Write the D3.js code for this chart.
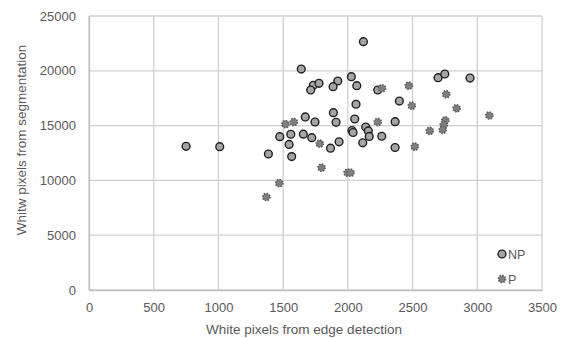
<!DOCTYPE html>
<html>
<head>
<meta charset="utf-8">
<script src="https://cdn.jsdelivr.net/npm/d3@7"></script>
<style>
  body { margin: 0; background: #fff; }
  svg text { font-family: "Liberation Sans", Arial, sans-serif; fill: #595959; }
</style>
</head>
<body>
<script>
// NP series (white pixels from edge detection, white pixels from segmentation)
const npX = [1640, 1733, 1777, 1713, 1671, 1746, 1474, 1559, 1656, 1721, 750, 1010, 1546, 1386, 1566, 1866,
             1922, 1886, 2027, 2069, 2063, 1888, 2120, 2231, 2697, 2749, 2398, 2944, 1909, 2053, 2032, 2040,
             1932, 2138, 2158, 2165, 2115, 2262, 2365, 2365];
const npY = [20160, 18680, 18860, 18250, 15790, 15330, 13990, 14210, 14220, 13900, 13110, 13080, 13280, 12410, 12170, 12940,
             19070, 18550, 19460, 18640, 16950, 16180, 22660, 18250, 19370, 19710, 17240, 19340, 15300, 15600, 14550, 14370,
             13520, 14870, 14510, 14010, 13430, 14030, 15360, 13000];
// P series
const pX = [1518, 1582, 1783, 1797, 1470, 1370, 1998, 2021, 2264, 2471, 2760, 2494, 2840, 3093, 2231, 2517, 2633, 2753, 2741, 2733];
const pY = [15130, 15330, 13350, 11160, 9745, 8485, 10700, 10700, 18400, 18640, 17860, 16810, 16580, 15920, 15330, 13080, 14510, 15470, 15060, 14620];

const xTicks = [0, 500, 1000, 1500, 2000, 2500, 3000, 3500];
const yTicks = [0, 5000, 10000, 15000, 20000, 25000];

const width = 568, height = 338;
const mLeft = 89, mRight = 542, mTop = 16, mBottom = 290;

const svg = d3.select('body').append('svg')
    .attr('width', width)
    .attr('height', height);

const x = d3.scaleLinear().domain([0, 3500]).range([mLeft, mRight]);
const y = d3.scaleLinear().domain([0, 25000]).range([mBottom, mTop]);

// gridlines
svg.append('g').selectAll('line').data(xTicks).enter().append('line')
    .attr('x1', d => x(d)).attr('x2', d => x(d))
    .attr('y1', mTop).attr('y2', mBottom)
    .attr('stroke', '#d0d0d0').attr('stroke-width', 1.3);
svg.append('g').selectAll('line').data(yTicks).enter().append('line')
    .attr('x1', mLeft).attr('x2', mRight)
    .attr('y1', d => y(d)).attr('y2', d => y(d))
    .attr('stroke', '#d0d0d0').attr('stroke-width', 1.3);

// axes (labels only)
const xAxis = d3.axisBottom(x).tickValues(xTicks).tickSize(0).tickPadding(13).tickFormat(d3.format('d'));
const yAxis = d3.axisLeft(y).tickValues(yTicks).tickSize(0).tickPadding(13).tickFormat(d3.format('d'));

const gx = svg.append('g').attr('transform', 'translate(0,' + mBottom + ')').call(xAxis);
const gy = svg.append('g').attr('transform', 'translate(' + mLeft + ',0)').call(yAxis);
gx.select('.domain').attr('stroke', '#bfbfbf').attr('stroke-width', 1.3);
gy.select('.domain').attr('stroke', '#bfbfbf').attr('stroke-width', 1.3);
svg.selectAll('.tick text').style('font-size', '13px').attr('fill', '#595959');

// axis titles
svg.append('text')
    .attr('x', 304).attr('y', 334)
    .attr('text-anchor', 'middle')
    .style('font-size', '13.5px')
    .text('White pixels from edge detection');
svg.append('text')
    .attr('transform', 'translate(26,140) rotate(-90)')
    .attr('text-anchor', 'middle')
    .style('font-size', '13.5px')
    .text('Whitw pixels from segmentation');

// points
const npData = npX.map((v, i) => [v, npY[i]]);
const pData = pX.map((v, i) => [v, pY[i]]);

svg.append('g').selectAll('circle').data(npData).enter().append('circle')
    .attr('cx', d => x(d[0])).attr('cy', d => y(d[1]))
    .attr('r', 3.9)
    .attr('fill', '#a5a5a5')
    .attr('stroke', '#1f1f1f').attr('stroke-width', 1.4);

svg.append('g').selectAll('circle').data(pData).enter().append('circle')
    .attr('cx', d => x(d[0])).attr('cy', d => y(d[1]))
    .attr('r', 3.6)
    .attr('fill', '#7f7f7f')
    .attr('stroke', '#595959').attr('stroke-width', 1.6)
    .attr('stroke-dasharray', '1.4,1.4');

// legend
const leg = svg.append('g');
leg.append('circle').attr('cx', 502).attr('cy', 254).attr('r', 3.9)
    .attr('fill', '#a5a5a5').attr('stroke', '#1f1f1f').attr('stroke-width', 1.4);
leg.append('text').attr('x', 508).attr('y', 258.5).style('font-size', '12.5px').text('NP');
leg.append('circle').attr('cx', 502).attr('cy', 279).attr('r', 3.6)
    .attr('fill', '#7f7f7f').attr('stroke', '#595959').attr('stroke-width', 1.6)
    .attr('stroke-dasharray', '1.4,1.4');
leg.append('text').attr('x', 508).attr('y', 283.5).style('font-size', '12.5px').text('P');
</script>
</body>
</html>
